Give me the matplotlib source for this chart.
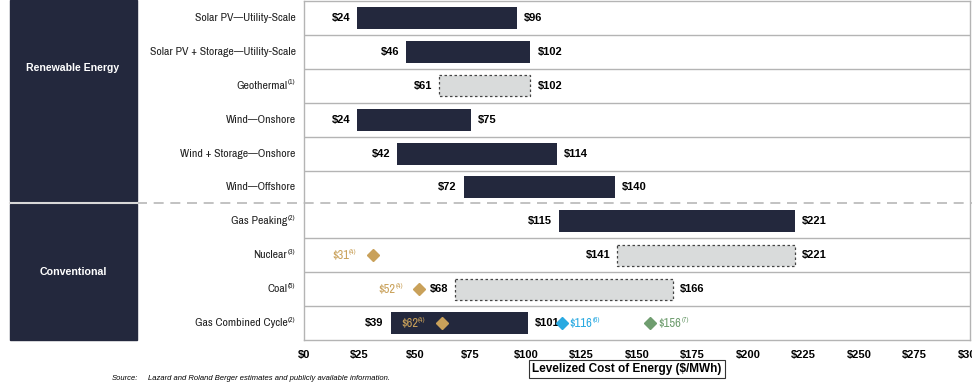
import matplotlib
matplotlib.use('Agg')
import matplotlib.pyplot as plt
from matplotlib.patches import Rectangle
from matplotlib.lines import Line2D

plt.rcParams['font.family'] = ['Liberation Sans', 'DejaVu Sans']
narrow = ['Archivo Narrow', 'Liberation Sans', 'DejaVu Sans']

# technologies, top to bottom
techs = ['Solar PV\u2014Utility-Scale', 'Solar PV + Storage\u2014Utility-Scale', 'Geothermal',
         'Wind\u2014Onshore', 'Wind + Storage\u2014Onshore', 'Wind\u2014Offshore',
         'Gas Peaking', 'Nuclear', 'Coal', 'Gas Combined Cycle']
tech_notes = ['', '', '(1)', '', '', '', '(2)', '(3)', '(5)', '(2)']
low = [24, 46, 61, 24, 42, 72, 115, 141, 68, 39]
high = [96, 102, 102, 75, 114, 140, 221, 221, 166, 101]
dotted = [False, False, True, False, False, False, False, True, True, False]

# marginal cost diamonds: row, value, footnote, colour name
marg_rows = [7, 8, 9, 9, 9]
marg_vals = [31, 52, 62, 116, 156]
marg_notes = ['(4)', '(4)', '(4)', '(6)', '(7)']
marg_kind = ['gold', 'gold', 'gold', 'blue', 'green']

xticks = [0, 25, 50, 75, 100, 125, 150, 175, 200, 225, 250, 275, 300]

navy = '#23283d'
grey_fill = '#d9dbdb'
grid_c = '#b4b4b4'
colors = {'gold': '#c9a15a', 'blue': '#29a9e1', 'green': '#6f9d6f'}

fig = plt.figure(figsize=(9.72, 3.82), dpi=100)
ax = fig.add_axes([304/972, 1 - 340/382, 666/972, 339/382])
ax.set_xlim(0, 300)
ax.set_ylim(9.5, -0.5)

for i in range(len(techs)):
    if dotted[i]:
        ax.barh(i, high[i] - low[i], left=low[i], height=0.62, color=grey_fill,
                edgecolor='#444444', linestyle=(0, (2, 2)), linewidth=0.9, zorder=3)
    else:
        ax.barh(i, high[i] - low[i], left=low[i], height=0.65, color=navy, zorder=3)
    ax.annotate('$' + str(low[i]), xy=(low[i], i), xytext=(-5, 0), textcoords='offset points',
                ha='right', va='center', fontsize=8, fontweight='bold', color='black')
    ax.annotate('$' + str(high[i]), xy=(high[i], i), xytext=(5, 0), textcoords='offset points',
                ha='left', va='center', fontsize=8, fontweight='bold', color='black')

# row separators
for b in range(1, len(techs)):
    if b == 6:
        continue
    ax.axhline(b - 0.5, color=grid_c, lw=1, zorder=1)
for s in ax.spines.values():
    s.set_color(grid_c)
    s.set_linewidth(1)

# marginal cost markers
for r, v, n, k in zip(marg_rows, marg_vals, marg_notes, marg_kind):
    c = colors[k]
    ax.plot(v, r, marker='D', ms=6.5, color=c, mec=c, zorder=5, clip_on=False)
    if k == 'gold':
        t = ax.annotate('$' + str(v), xy=(v, r), xytext=(-17, 0), textcoords='offset points',
                        ha='right', va='center', fontsize=9, color=c, family=narrow)
    else:
        t = ax.annotate('$' + str(v), xy=(v, r), xytext=(6, 0), textcoords='offset points',
                        ha='left', va='center', fontsize=9, color=c, family=narrow)
    ax.annotate(n, xy=(1, 0.5), xycoords=t, ha='left', va='bottom', fontsize=5.5, color=c,
                family=narrow)

# category labels
for i, (name, note) in enumerate(zip(techs, tech_notes)):
    off = -6 if note == '' else -12
    t = ax.annotate(name, xy=(0, i), xytext=(off, 0), textcoords='offset points',
                    ha='right', va='center', fontsize=8.5, color='#222222', family=narrow)
    if note:
        ax.annotate(note, xy=(1, 0.55), xycoords=t, ha='left', va='bottom', fontsize=5.5,
                    color='#222222', family=narrow)

ax.set_xticks(xticks)
ax.set_xticklabels(['$' + str(x) for x in xticks], fontsize=8, fontweight='bold')
ax.tick_params(axis='x', length=0, pad=7)
ax.set_yticks([])

# group boxes on the left
fig.add_artist(Rectangle((10/972, 1 - 201/382), 127/972, 201/382, transform=fig.transFigure,
                         color=navy, zorder=0))
fig.add_artist(Rectangle((10/972, 1 - 340/382), 127/972, 136/382, transform=fig.transFigure,
                         color=navy, zorder=0))
fig.text(73/972, 1 - 68/382, 'Renewable Energy', ha='center', va='center', color='white',
         fontsize=7.6, fontweight='bold')
fig.text(73/972, 1 - 272/382, 'Conventional', ha='center', va='center', color='white',
         fontsize=7.7, fontweight='bold')

# dashed split between the two groups
fig.add_artist(Line2D([137/972, 1], [1 - 203/382, 1 - 203/382], transform=fig.transFigure,
                      color='#b8b8b8', lw=1.2, linestyle=(0, (6, 4))))
fig.add_artist(Line2D([10/972, 137/972], [1 - 203/382, 1 - 203/382], transform=fig.transFigure,
                      color='#d8d8d8', lw=1.5))

fig.text(627/972, 1 - 369/382, 'Levelized Cost of Energy ($/MWh)', ha='center', va='center',
         fontsize=8.5, fontweight='bold',
         bbox=dict(boxstyle='square,pad=0.25', fc='white', ec='#333333', lw=0.8))

fig.text(112/972, 1 - 378/382, 'Source:', ha='left', va='center', fontsize=5.5, style='italic')
fig.text(148/972, 1 - 378/382, 'Lazard and Roland Berger estimates and publicly available information.',
         ha='left', va='center', fontsize=5.5, style='italic')

fig.savefig('out.png', dpi=100)
